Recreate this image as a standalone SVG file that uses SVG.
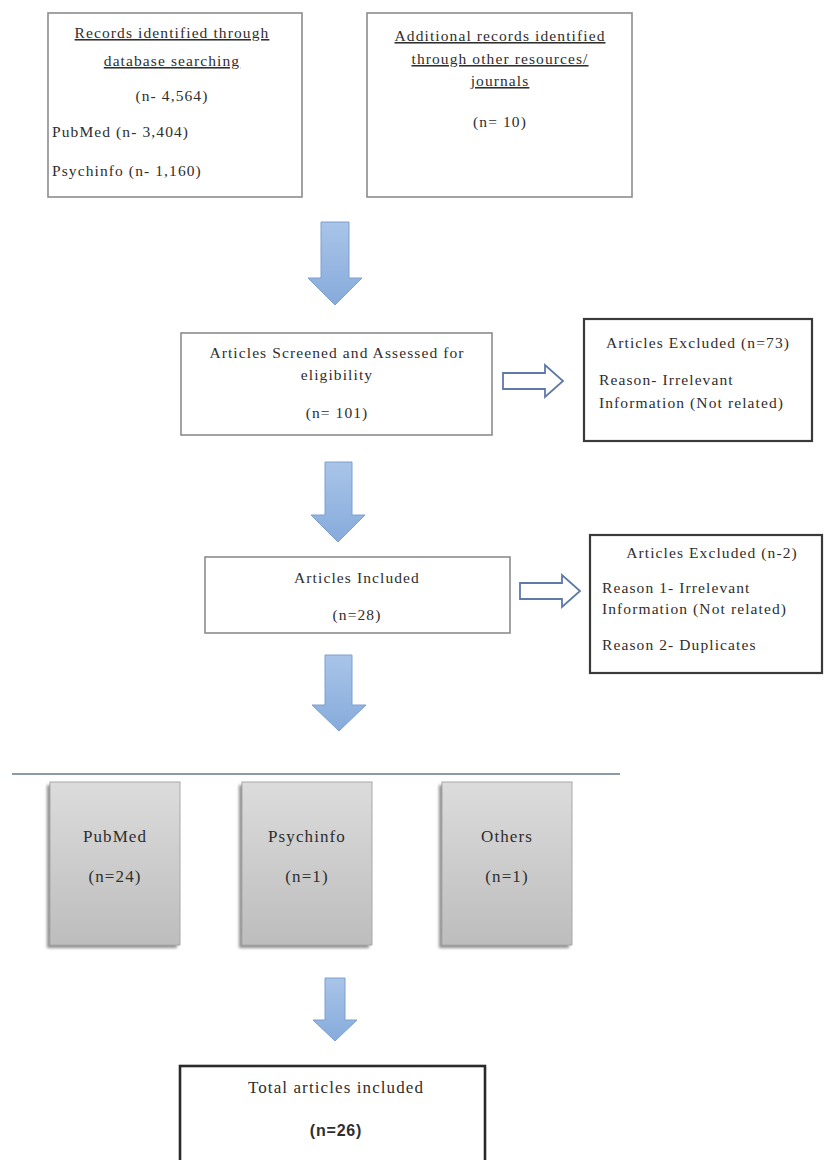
<svg xmlns="http://www.w3.org/2000/svg" width="825" height="1160" viewBox="0 0 825 1160">
<defs>
<linearGradient id="blueArrow" x1="0" y1="0" x2="0" y2="1">
<stop offset="0" stop-color="#a9c4e8"/>
<stop offset="1" stop-color="#86abdb"/>
</linearGradient>
<linearGradient id="grayBox" x1="0" y1="0" x2="0" y2="1">
<stop offset="0" stop-color="#dcdcdc"/>
<stop offset="1" stop-color="#bdbdbd"/>
</linearGradient>
<filter id="blur" x="-20%" y="-20%" width="140%" height="140%">
<feGaussianBlur stdDeviation="1.5"/>
</filter>
</defs>
<style>
text{font-family:"Liberation Serif","Times New Roman",serif;font-size:15.5px;fill:#2e2e2e;letter-spacing:1.1px}
.c{text-anchor:middle}
.u{text-decoration:underline}
.box{fill:#fff;stroke:#8c8c8c;stroke-width:1.6}
.dark{fill:#fff;stroke:#3a3a3a;stroke-width:2.2}
.blue{fill:url(#blueArrow);stroke:#7d9fcf;stroke-width:1}
.hollow{fill:#fff;stroke:#5d7aa8;stroke-width:1.8;stroke-linejoin:miter}
.gray{fill:url(#grayBox);stroke:#a8a8a8;stroke-width:1}
.shadow{fill:#8f8f8f;filter:url(#blur)}
.big{font-size:17px}
.med{font-size:17px}
.bold{font-family:"Liberation Sans",Arial,sans-serif;font-weight:bold;font-size:16px;letter-spacing:0.8px}
</style>
<rect width="825" height="1160" fill="#fff"/>

<g id="connectors">
<path class="blue" d="M321,222 H349 V278 H362 L335,305 L308,278 H321 Z"/>
<path class="hollow" d="M503,373 H545 V365 L563,381 L545,397 V389 H503 Z"/>
<path class="blue" d="M325,462 H352 V515 H365 L338,542 L311,515 H325 Z"/>
<path class="hollow" d="M520,583 H562 V575 L580,591 L562,607 V599 H520 Z"/>
<path class="blue" d="M325,655 H352 V705 H366 L339,731 L312,705 H325 Z"/>
<line x1="12" y1="774" x2="620" y2="774" stroke="#8d9aa8" stroke-width="2"/>
<path class="blue" d="M325,978 H345 V1020 H357 L335,1041 L313,1020 H325 Z"/>
</g>

<g id="records-database">
<rect class="box" x="48" y="13" width="254" height="184"/>
<text class="c u" x="172" y="38">Records identified through</text>
<text class="c u" x="172" y="66">database searching</text>
<text class="c" x="172" y="101">(n- 4,564)</text>
<text x="52" y="137">PubMed (n- 3,404)</text>
<text x="52" y="176">Psychinfo (n- 1,160)</text>
</g>

<g id="records-other">
<rect class="box" x="367" y="13" width="265" height="184"/>
<text class="c u" x="500" y="41">Additional records identified</text>
<text class="c u" x="500" y="64">through other resources/</text>
<text class="c u" x="500" y="86">journals</text>
<text class="c" x="500" y="127">(n= 10)</text>
</g>

<g id="screened">
<rect class="box" x="181" y="333" width="311" height="102"/>
<text class="c" x="337" y="358">Articles Screened and Assessed for</text>
<text class="c" x="337" y="380">eligibility</text>
<text class="c" x="337" y="418">(n= 101)</text>
</g>

<g id="excluded-1">
<rect class="dark" x="584" y="319" width="228" height="122"/>
<text class="c" x="698" y="348">Articles Excluded (n=73)</text>
<text x="599" y="385">Reason- Irrelevant</text>
<text x="599" y="408">Information (Not related)</text>
</g>

<g id="included">
<rect class="box" x="205" y="557" width="305" height="76"/>
<text class="c" x="357" y="583">Articles Included</text>
<text class="c" x="357" y="620">(n=28)</text>
</g>

<g id="excluded-2">
<rect class="dark" x="590" y="535" width="232" height="138"/>
<text class="c" x="712" y="558">Articles Excluded (n-2)</text>
<text x="602" y="593">Reason 1- Irrelevant</text>
<text x="602" y="614">Information (Not related)</text>
<text x="602" y="650">Reason 2- Duplicates</text>
</g>

<g id="pubmed">
<rect class="shadow" x="47" y="785" width="130" height="163"/>
<rect class="gray" x="50" y="782" width="130" height="163"/>
<text class="c med" x="115" y="842">PubMed</text>
<text class="c med" x="115" y="882">(n=24)</text>
</g>

<g id="psychinfo">
<rect class="shadow" x="239" y="785" width="130" height="163"/>
<rect class="gray" x="242" y="782" width="130" height="163"/>
<text class="c med" x="307" y="842">Psychinfo</text>
<text class="c med" x="307" y="882">(n=1)</text>
</g>

<g id="others">
<rect class="shadow" x="439" y="785" width="130" height="163"/>
<rect class="gray" x="442" y="782" width="130" height="163"/>
<text class="c med" x="507" y="842">Others</text>
<text class="c med" x="507" y="882">(n=1)</text>
</g>

<g id="total">
<rect x="180" y="1066" width="305" height="100" fill="#fff" stroke="#2a2a2a" stroke-width="2.6"/>
<text class="c big" x="336" y="1093">Total articles included</text>
<text class="c bold" x="336" y="1136">(n=26)</text>
</g>
</svg>
